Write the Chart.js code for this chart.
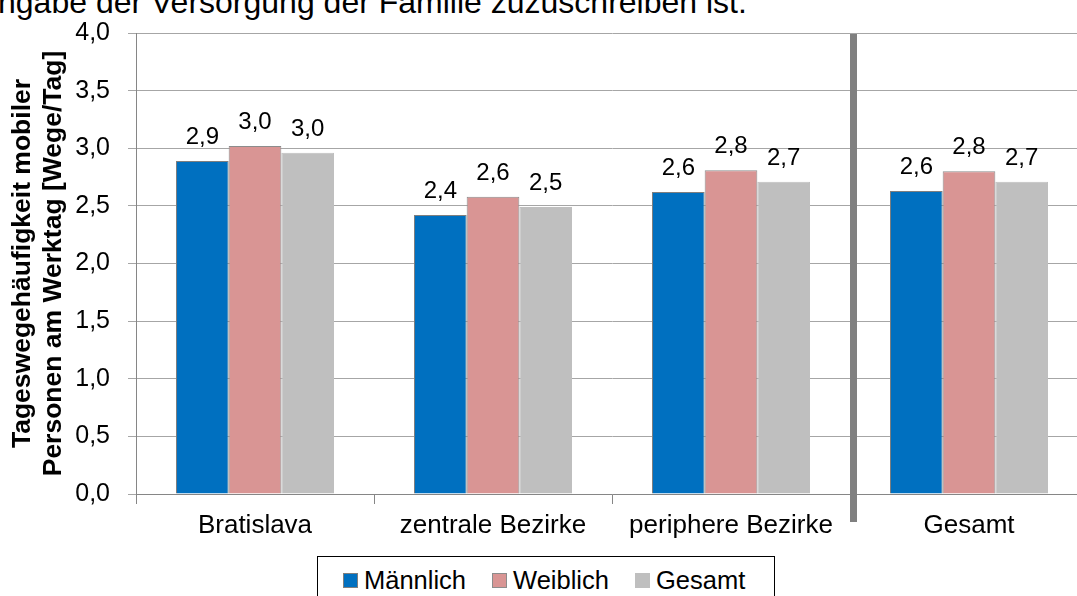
<!DOCTYPE html>
<html lang="de">
<head>
<meta charset="utf-8">
<title>Tageswegehäufigkeit mobiler Personen</title>
<script src="https://cdn.jsdelivr.net/npm/chart.js@4/dist/chart.umd.min.js"></script>
<style>
    html, body { margin: 0; padding: 0; background: #fff; overflow: hidden; }
    body { width: 1077px; height: 596px; position: relative; font-family: 'Liberation Sans', Arial, sans-serif; }
    #wrap { position: absolute; left: 0; top: 0; }
    #lead { position: absolute; left: -2px; top: -14px; font-size: 32px; line-height: 32px; white-space: nowrap; color: #000; }
    #legend { position: absolute; left: 317px; top: 556px; width: 458px; height: 60px; box-sizing: border-box;
              border: 1px solid #000; padding: 8px 0 0 25px; display: flex; gap: 26px; }
    .item { display: flex; align-items: center; height: 30px; font-size: 25.5px; line-height: 30px; color: #000; }
    .swatch { width: 15px; height: 15px; margin-right: 6px; box-sizing: border-box; }
</style>
</head>
<body>
<div id="lead">ngabe der Versorgung der Familie zuzuschreiben ist.</div>
<div id="wrap"><canvas id="wegeChart" width="1090" height="550"></canvas></div>
<div id="legend"></div>
<script>
const categories = ['Bratislava', 'zentrale Bezirke', 'periphere Bezirke', 'Gesamt'];
const seriesNames = ['Männlich', 'Weiblich', 'Gesamt'];
const maennlich = [2.89, 2.42, 2.62, 2.63];
const weiblich = [3.02, 2.58, 2.81, 2.80];
const gesamt = [2.96, 2.49, 2.71, 2.71];
const yTicks = [0, 0.5, 1, 1.5, 2, 2.5, 3, 3.5, 4];
const yTitle = ['Tageswegehäufigkeit mobiler', 'Personen am Werktag [Wege/Tag]'];

const fillColors = ['#0070C0', '#D99594', '#BFBFBF'];
const edgeColors = ['#7f7f7f', '#8c8c8c', '#BFBFBF'];

const fmt = v => v.toFixed(1).replace('.', ',');

// value labels above every bar
const barValues = {
    id: 'barValues',
    afterDatasetsDraw(chart) {
        const ctx = chart.ctx;
        ctx.save();
        ctx.font = '24px "Liberation Sans", Arial, sans-serif';
        ctx.fillStyle = '#000';
        ctx.textAlign = 'center';
        ctx.textBaseline = 'alphabetic';
        chart.data.datasets.forEach((ds, i) => {
            chart.getDatasetMeta(i).data.forEach((bar, j) => {
                ctx.fillText(fmt(ds.data[j]), bar.x, bar.y - 17);
            });
        });
        ctx.restore();
    }
};

// thick divider between the district groups and the overall group
const divider = {
    id: 'divider',
    afterDraw(chart) {
        const x = chart.scales.x, y = chart.scales.y;
        const edge = (x.getPixelForValue(2) + x.getPixelForValue(3)) / 2;
        const ctx = chart.ctx;
        ctx.save();
        ctx.strokeStyle = '#808080';
        ctx.lineWidth = 7;
        ctx.beginPath();
        ctx.moveTo(edge + 3.5, y.getPixelForValue(4) + 1);
        ctx.lineTo(edge + 3.5, y.bottom + 28);
        ctx.stroke();
        ctx.restore();
    }
};

const datasets = [maennlich, weiblich, gesamt].map((vals, i) => ({
    label: seriesNames[i],
    data: vals,
    backgroundColor: fillColors[i],
    borderColor: edgeColors[i],
    borderWidth: 1,
    categoryPercentage: 0.664,
    barPercentage: 1.0
}));

new Chart(document.getElementById('wegeChart'), {
    type: 'bar',
    data: { labels: categories, datasets: datasets },
    options: {
        responsive: false,
        animation: false,
        layout: { padding: { top: 23, right: 2, left: 0, bottom: 0 } },
        plugins: {
            legend: { display: false },
            tooltip: { enabled: false }
        },
        scales: {
            x: {
                grid: { display: true, drawOnChartArea: false, drawTicks: true, tickLength: 10, color: '#868686', offset: true },
                border: { color: '#868686' },
                ticks: { color: '#000', padding: 6, font: { family: '"Liberation Sans", Arial, sans-serif', size: 26 } },
                afterFit(scale) { scale.height = 56; }
            },
            y: {
                min: 0,
                max: 4,
                afterBuildTicks(scale) { scale.ticks = yTicks.map(v => ({ value: v })); },
                grid: { color: '#a6a6a6', tickLength: 8 },
                border: { color: '#868686' },
                ticks: {
                    color: '#000',
                    padding: 18,
                    font: { family: '"Liberation Sans", Arial, sans-serif', size: 25 },
                    callback: v => fmt(v)
                },
                title: {
                    display: true,
                    text: yTitle,
                    color: '#000',
                    padding: { top: 7, bottom: 0 },
                    font: { family: '"Liberation Sans", Arial, sans-serif', size: 26.5, weight: 'bold', lineHeight: '31px' }
                },
                afterFit(scale) { scale.width = 136; }
            }
        }
    },
    plugins: [barValues, divider]
});

// legend row built from the same series
const legend = document.getElementById('legend');
seriesNames.forEach((name, i) => {
    const item = document.createElement('div');
    item.className = 'item';
    const sw = document.createElement('span');
    sw.className = 'swatch';
    sw.style.background = fillColors[i];
    sw.style.border = '1px solid ' + edgeColors[i];
    item.appendChild(sw);
    item.appendChild(document.createTextNode(name));
    legend.appendChild(item);
});
</script>
</body>
</html>
